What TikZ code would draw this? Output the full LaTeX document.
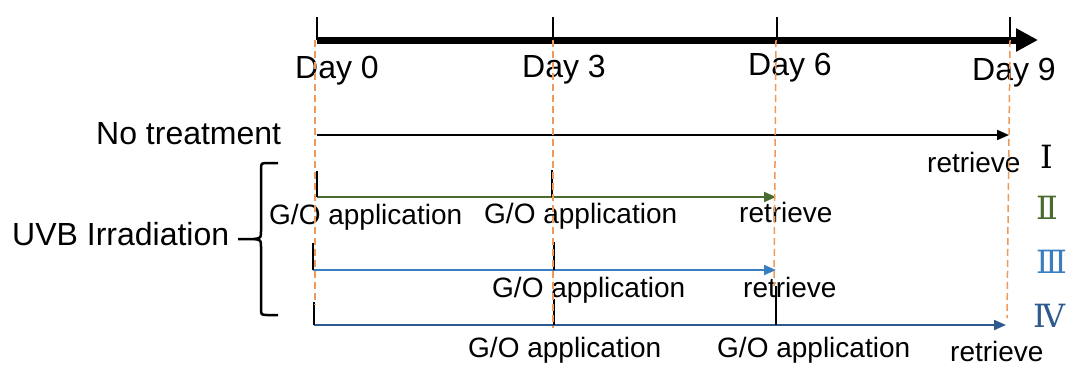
\documentclass[tikz,border=0pt]{standalone}
\usepackage{fontspec}
\setmainfont{Liberation Sans}
\newfontfamily\numfont{DejaVu Serif}
\usetikzlibrary{arrows.meta}
\definecolor{dashor}{HTML}{F09A5A}
\definecolor{gII}{HTML}{4A6B2F}
\definecolor{bIII}{HTML}{3A7EC2}
\definecolor{bIV}{HTML}{2F5A8E}
\begin{document}
\begin{tikzpicture}[x=1pt,y=-1pt,
 big/.style={font=\fontsize{32}{36}\selectfont, inner sep=0pt, anchor=base west},
 small/.style={font=\fontsize{28}{32}\selectfont, inner sep=0pt, anchor=base west},
 num/.style={font=\numfont\fontsize{32}{36}\selectfont, inner sep=0pt, anchor=base west},
 tickline/.style={line width=2.5pt},
 guide/.style={dashor, line width=1.5pt, dash pattern=on 7pt off 4pt},
 rowarrow/.style={line width=2pt, -{Triangle[length=12pt,width=10pt]}},
]
\useasboundingbox (0,0) rectangle (1070,365);
% axis
\coordinate (a0) at (317,40);
\coordinate (aend) at (1038,40);
\draw[line width=7pt, -{Triangle[length=22pt,width=22pt]}] (a0) -- (aend);
\foreach \n/\x in {0/317,3/553,6/777,9/1010}{
  \coordinate (tt\n) at (\x,17);
  \coordinate (tb\n) at (\x,40);
  \draw[tickline] (tt\n) -- (tb\n);
}
\node[big] (d0) at (295,78) {Day 0};
\node[big] (d3) at (522,77) {Day 3};
\node[big] (d6) at (748,75) {Day 6};
\node[big] (d9) at (972,80) {Day 9};
% left labels
\node[big] (nt) at (96,144) {No treatment};
\node[big] (uvb) at (12,245) {UVB Irradiation};
% brace
\coordinate (brT) at (278,163);
\coordinate (brB) at (278,315);
\coordinate (brTip) at (238,239);
\draw[line width=2.5pt] (brT) -- (268,163) .. controls (261,163) .. (261,170) -- (261,231)
   .. controls (261,238) .. (254,239) -- (brTip);
\draw[line width=2.5pt] (254,239) .. controls (261,240) .. (261,247) -- (261,308)
   .. controls (261,315) .. (268,315) -- (brB);
% row I
\coordinate (r1s) at (317,135);
\coordinate (r1e) at (1009,135);
\draw[rowarrow] (r1s) -- (r1e);
\node[small] (ret1) at (927,172) {retrieve};
% row II
\coordinate (r2s) at (317,197);
\coordinate (r2e) at (776,197);
\coordinate (r2m) at (552,197);
\coordinate (r2a) at (317,171);
\coordinate (r2b) at (552,170);
\draw[gII, rowarrow] (r2s) -- (r2e);
\draw[tickline] (r2a) -- (r2s);
\draw[tickline] (r2b) -- (r2m);
\node[small] (go21) at (269,224) {G/O application};
\node[small] (go22) at (484,223) {G/O application};
\node[small] (ret2) at (739,222) {retrieve};
% row III
\coordinate (r3s) at (313,270);
\coordinate (r3e) at (776,270);
\coordinate (r3m) at (554,270);
\coordinate (r3a) at (313,243);
\coordinate (r3b) at (554,242);
\draw[bIII, rowarrow] (r3s) -- (r3e);
\draw[tickline] (r3a) -- (r3s);
\draw[tickline] (r3b) -- (r3m);
\node[small] (go31) at (492,297) {G/O application};
\node[small] (ret3) at (743,297) {retrieve};
% row IV
\coordinate (r4s) at (314,325);
\coordinate (r4e) at (1006,325);
\coordinate (r4m) at (554,325);
\coordinate (r4n) at (776,325);
\coordinate (r4a) at (314,302);
\coordinate (r4b) at (554,299);
\coordinate (r4c) at (776,286);
\draw[bIV, rowarrow] (r4s) -- (r4e);
\draw[tickline] (r4a) -- (r4s);
\draw[tickline] (r4b) -- (r4m);
\draw[tickline] (r4c) -- (r4n);
\node[small] (go41) at (468,357) {G/O application};
\node[small] (go42) at (717,357) {G/O application};
\node[small] (ret4) at (950,361) {retrieve};
% numerals
\node[num] (n1) at (1040,168) {Ⅰ};
\node[num, text=gII] (n2) at (1036,219) {Ⅱ};
\node[num, text=bIII] (n3) at (1036,273) {Ⅲ};
\node[num, text=bIV] (n4) at (1033,327) {Ⅳ};
% guides
\coordinate (g0t) at (315,40); \coordinate (g0b) at (315,305);
\coordinate (g3t) at (553,40); \coordinate (g3b) at (553,328);
\coordinate (g6t) at (776,40); \coordinate (g6b) at (774,286);
\coordinate (g9t) at (1010,40); \coordinate (g9b) at (1007,318);
\draw[guide] (g0t) -- (g0b);
\draw[guide] (g3t) -- (g3b);
\draw[guide] (g6t) -- (g6b);
\draw[guide] (g9t) -- (g9b);
\end{tikzpicture}
\end{document}
